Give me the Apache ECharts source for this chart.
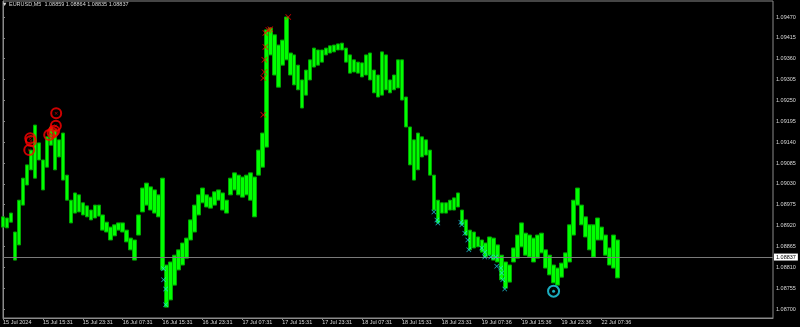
<!DOCTYPE html>
<html>
<head>
<meta charset="utf-8">
<script src="https://cdn.jsdelivr.net/npm/echarts@6/dist/echarts.min.js"></script>
<style>html,body{margin:0;padding:0;background:#000;}#c{width:800px;height:327px;}</style>
</head>
<body>
<div id="c"></div>
<script>
// x-axis tick labels (every 10th bar-group)
const tickLabels = ["15 Jul 2024","15 Jul 15:31","15 Jul 23:31","16 Jul 07:31","16 Jul 15:31","16 Jul 23:31","17 Jul 07:31","17 Jul 15:31","17 Jul 23:31","18 Jul 07:31","18 Jul 15:31","18 Jul 23:31","19 Jul 07:36","19 Jul 15:36","19 Jul 23:36","22 Jul 07:36"];
// y-axis tick values
const yTicks = [1.08700,1.08755,1.08810,1.08865,1.08920,1.08975,1.09030,1.09085,1.09140,1.09195,1.09250,1.09305,1.09360,1.09415,1.09470];
const lastPrice = 1.08837;
const headerText = "EURUSD,M5  1.08859 1.08864 1.08835 1.08837";

// price range (high / low) per bar group
const highs = [1.08943,1.08940,1.08953,1.08903,1.08987,1.09045,1.09080,1.09119,1.09185,1.09138,
1.09093,1.09154,1.09180,1.09172,1.09146,1.09164,1.09053,1.08987,1.09006,1.09001,
1.08980,1.08972,1.08961,1.08974,1.08974,1.08948,1.08929,1.08916,1.08922,1.08927,
1.08927,1.08908,1.08887,1.08882,1.08948,1.09019,1.09032,1.09022,1.09014,1.09001,
1.09045,1.08816,1.08824,1.08842,1.08856,1.08874,1.08887,1.08935,1.08974,1.09001,
1.09019,1.09001,1.08995,1.09009,1.09014,1.09006,1.08987,1.09045,1.09059,1.09053,
1.09048,1.09053,1.09059,1.09048,1.09119,1.09164,1.09436,1.09441,1.09423,1.09396,
1.09409,1.09470,1.09375,1.09370,1.09343,1.09304,1.09330,1.09357,1.09388,1.09383,
1.09383,1.09388,1.09394,1.09396,1.09399,1.09401,1.09388,1.09370,1.09357,1.09351,
1.09349,1.09370,1.09375,1.09330,1.09317,1.09378,1.09370,1.09304,1.09317,1.09357,
1.09357,1.09259,1.09180,1.09146,1.09164,1.09154,1.09146,1.09119,1.09053,1.08987,
1.08980,1.08980,1.08987,1.08993,1.09006,1.08961,1.08935,1.08908,1.08903,1.08890,
1.08882,1.08874,1.08890,1.08887,1.08869,1.08842,1.08824,1.08816,1.08861,1.08895,
1.08927,1.08900,1.08895,1.08887,1.08895,1.08900,1.08856,1.08842,1.08816,1.08808,
1.08821,1.08848,1.08922,1.08987,1.09019,1.08974,1.08943,1.08922,1.08922,1.08940,
1.08916,1.08895,1.08861,1.08895,1.08882];
const lows = [1.08916,1.08914,1.08929,1.08829,1.08869,1.08974,1.09027,1.09067,1.09045,1.09093,
1.09014,1.09074,1.09132,1.09067,1.09101,1.09040,1.08987,1.08927,1.08953,1.08956,
1.08948,1.08943,1.08935,1.08940,1.08945,1.08908,1.08903,1.08882,1.08893,1.08908,
1.08903,1.08877,1.08856,1.08829,1.08895,1.08956,1.08974,1.08961,1.08953,1.08943,
1.08803,1.08705,1.08724,1.08763,1.08803,1.08816,1.08834,1.08882,1.08903,1.08948,
1.08980,1.08969,1.08966,1.08974,1.08987,1.08961,1.08953,1.09001,1.09014,1.09001,
1.08995,1.09001,1.08987,1.08943,1.09053,1.09074,1.09127,1.09370,1.09317,1.09285,
1.09343,1.09357,1.09317,1.09291,1.09278,1.09230,1.09264,1.09304,1.09338,1.09343,
1.09351,1.09370,1.09375,1.09378,1.09383,1.09383,1.09351,1.09322,1.09325,1.09322,
1.09312,1.09317,1.09304,1.09270,1.09259,1.09264,1.09278,1.09270,1.09278,1.09283,
1.09251,1.09180,1.09080,1.09040,1.09067,1.09101,1.09106,1.09053,1.08961,1.08927,
1.08953,1.08953,1.08961,1.08961,1.08969,1.08922,1.08895,1.08856,1.08861,1.08864,
1.08850,1.08837,1.08842,1.08829,1.08824,1.08777,1.08755,1.08771,1.08824,1.08834,
1.08864,1.08842,1.08837,1.08824,1.08834,1.08848,1.08808,1.08790,1.08769,1.08763,
1.08784,1.08808,1.08824,1.08895,1.08974,1.08922,1.08890,1.08856,1.08837,1.08882,
1.08882,1.08842,1.08816,1.08808,1.08782];

// signal markers: [bar-group position, price]
const redCircles = [[6.83,1.09150],[7.0,1.09143],[6.58,1.09119],[13.33,1.09216],[13.25,1.09183],[11.58,1.09159],[12.43,1.09165],[12.83,1.09170]];
const redCrosses = [[65.25,1.09212],[65.25,1.09309],[65.5,1.09325],[65.5,1.09357],[65.75,1.09391],[65.75,1.09428],[66.5,1.09436],[67.0,1.09438],[71.5,1.09470]];
const cyanCrosses = [[40.25,1.08806],[40.25,1.08777],[40.75,1.08753],[40.75,1.08711],[108,1.08956],[108.75,1.08935],[109,1.08927],[114.75,1.08929],[115,1.08922],[115.75,1.08900],[116.5,1.08882],[116.75,1.08856],[120,1.08861],[120.75,1.08850],[120.75,1.08837],[122.25,1.08837],[123.5,1.08837],[123.75,1.08813],[124.75,1.08808],[125,1.08795],[125.25,1.08777],[125.75,1.08753]];
const cyanCircles = [[138,1.08747]];

const N = 194;
const categories = [];
for (let i = 0; i < N; i++) categories.push(i % 10 === 0 && tickLabels[i/10] ? tickLabels[i/10] : '');
const candles = highs.map((h, i) => [lows[i], h, lows[i], h]);

const FONT = 'Liberation Sans';
const TXT = '#d8d8d8';
const GRAY = '#8a8a8a';
const crossPath = 'path://M0,1L1,0L5,4L9,0L10,1L6,5L10,9L9,10L5,6L1,10L0,9L4,5Z';

const chart = echarts.init(document.getElementById('c'), null, {renderer: 'canvas'});
chart.setOption({
  backgroundColor: '#000',
  animation: false,
  title: {
    text: '\u25BC ' + headerText, left: 2, top: 1, padding: 0,
    textStyle: {color: TXT, fontSize: 5.5, fontWeight: 'normal', fontFamily: FONT}
  },
  grid: {left: 1, right: 27, top: 1, bottom: 9, show: true, borderColor: GRAY, borderWidth: 1, backgroundColor: 'transparent'},
  xAxis: [{
    type: 'category', data: categories, boundaryGap: false,
    axisLine: {show: true, lineStyle: {color: GRAY, width: 1}},
    axisTick: {show: true, length: 2, inside: false, interval: (i) => i % 10 === 0 && i <= 150, lineStyle: {color: GRAY}},
    axisLabel: {show: true, interval: (i) => i % 10 === 0 && i <= 150, align: 'left', margin: 1, color: TXT, fontSize: 5.5, fontFamily: FONT},
    splitLine: {show: false}
  }, {
    type: 'value', min: 0, max: N - 1, show: false
  }],
  yAxis: {
    type: 'value', position: 'right', min: 1.086763, max: 1.095122, scale: true,
    axisLine: {show: true, lineStyle: {color: GRAY, width: 1}},
    axisTick: {show: true, length: 2, customValues: yTicks, lineStyle: {color: GRAY}},
    axisLabel: {show: true, customValues: yTicks, margin: 3, color: TXT, fontSize: 5.5, fontFamily: FONT, formatter: (v) => v.toFixed(5)},
    splitLine: {show: false}
  },
  series: [{
    type: 'candlestick', xAxisIndex: 0, yAxisIndex: 0, data: candles, barWidth: 4,
    itemStyle: {color: '#00ff00', color0: '#00ff00', borderColor: '#00a800', borderColor0: '#00a800', borderWidth: 1}
  }, {
    type: 'line', xAxisIndex: 1, yAxisIndex: 0, data: [], silent: true,
    markLine: {
      silent: true, symbol: ['none', 'none'], precision: 5,
      lineStyle: {color: '#7a7a7a', width: 1, type: 'solid'},
      label: {show: true, position: 'end', distance: 1, formatter: () => lastPrice.toFixed(5), color: '#000', backgroundColor: '#fff', padding: [1, 2, 0, 2], fontSize: 5.5, fontFamily: FONT},
      data: [{yAxis: lastPrice}]
    }
  }, {
    type: 'scatter', xAxisIndex: 1, yAxisIndex: 0, data: redCircles, symbol: 'circle', symbolSize: 10, z: 5,
    itemStyle: {color: 'rgba(0,0,0,0)', borderColor: '#ff0000', borderWidth: 2}
  }, {
    type: 'scatter', xAxisIndex: 1, yAxisIndex: 0, data: redCircles, symbol: crossPath, symbolSize: 3, z: 5,
    itemStyle: {color: '#ff0000'}
  }, {
    type: 'scatter', xAxisIndex: 1, yAxisIndex: 0, data: redCrosses, symbol: crossPath, symbolSize: 6, z: 5,
    itemStyle: {color: '#ff0000'}
  }, {
    type: 'scatter', xAxisIndex: 1, yAxisIndex: 0, data: cyanCrosses, symbol: crossPath, symbolSize: 5, z: 5,
    itemStyle: {color: '#22d8f0'}
  }, {
    type: 'scatter', xAxisIndex: 1, yAxisIndex: 0, data: cyanCircles, symbol: 'circle', symbolSize: 11, z: 5,
    itemStyle: {color: 'rgba(0,0,0,0)', borderColor: '#22d8f0', borderWidth: 2}
  }, {
    type: 'scatter', xAxisIndex: 1, yAxisIndex: 0, data: cyanCircles, symbol: 'circle', symbolSize: 3, z: 5,
    itemStyle: {color: '#22d8f0'}
  }]
});
</script>
</body>
</html>
